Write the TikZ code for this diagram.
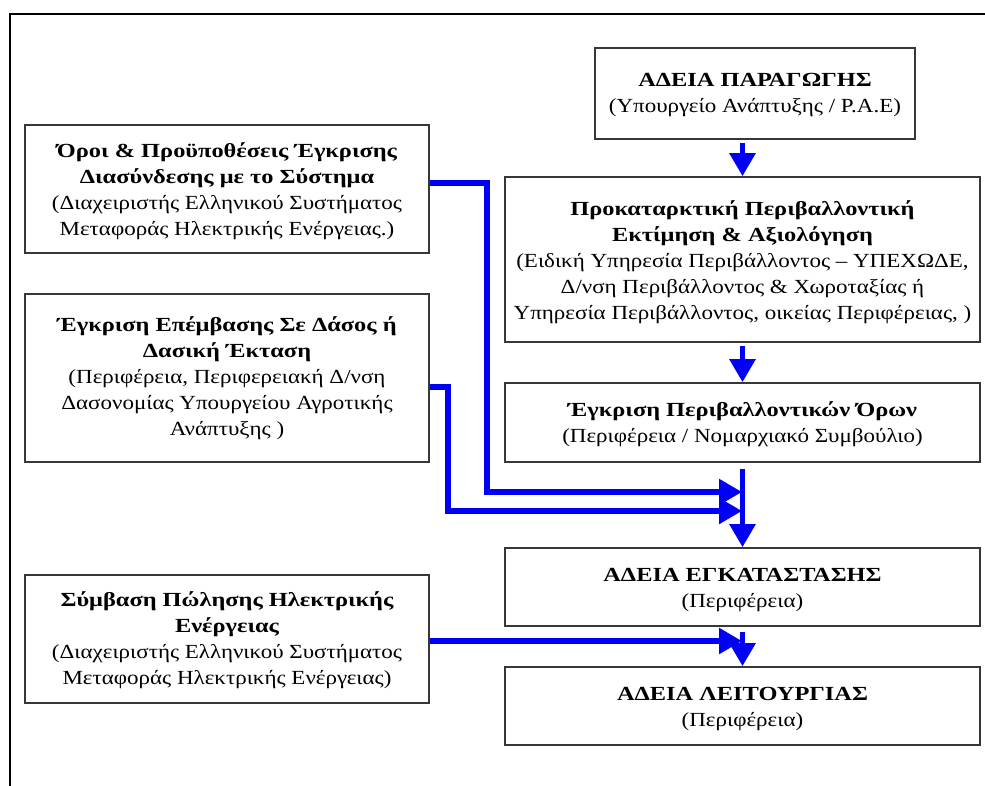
\documentclass[tikz,border=0pt]{standalone}
\usepackage{fontspec}
\setmainfont{Liberation Serif}[FakeStretch=1.15]
\newfontfamily\boldfam{Liberation Serif}[FakeStretch=1.22]
\newcommand{\ttlb}[1]{{\boldfam\bfseries #1}}
\usetikzlibrary{arrows.meta}
\definecolor{arrowblue}{RGB}{0,0,245}
\definecolor{boxgray}{RGB}{55,55,55}
\tikzset{
  box/.style={draw=boxgray, line width=1.6pt, inner sep=0pt, anchor=center},
  txt/.style={align=center, inner sep=0pt, anchor=center,
    font=\fontsize{20}{26}\selectfont},
  conn/.style={draw=arrowblue, line width=5.5pt,
    -{Triangle[width=25pt,length=23pt]}, line join=miter},
  frameline/.style={line width=2.5pt, black}
}
\begin{document}
\begin{tikzpicture}[x=1pt,y=-1pt]
\useasboundingbox (0,0) rectangle (985,785);
\coordinate (fa) at (10,786);
\coordinate (fb) at (10,14);
\coordinate (fc) at (986,14);
\draw[frameline] (fa) -- (fb) -- (fc);

% right column
\node[box, minimum width=320pt, minimum height=91pt] (a) at (755,93.5) {};
\node[txt] (at) at ([yshift=-2pt]a.center)
  {\ttlb{ΑΔΕΙΑ ΠΑΡΑΓΩΓΗΣ}\\(Υπουργείο Ανάπτυξης / Ρ.Α.Ε)};
\node[box, minimum width=475pt, minimum height=165pt] (b) at (742.5,259.5) {};
\node[txt] (bt) at ([yshift=-3pt]b.center)
  {\ttlb{Προκαταρκτική Περιβαλλοντική}\\\ttlb{Εκτίμηση \& Αξιολόγηση}\\(Ειδική Υπηρεσία Περιβάλλοντος – ΥΠΕΧΩΔΕ,\\Δ/νση Περιβάλλοντος \& Χωροταξίας ή\\Υπηρεσία Περιβάλλοντος, οικείας Περιφέρειας, )};
\node[box, minimum width=475pt, minimum height=79pt] (c) at (742.5,422.5) {};
\node[txt] (ct) at ([yshift=-2pt]c.center)
  {\ttlb{Έγκριση Περιβαλλοντικών Όρων}\\(Περιφέρεια / Νομαρχιακό Συμβούλιο)};
\node[box, minimum width=475pt, minimum height=78pt] (d) at (742.5,587) {};
\node[txt] (dt) at ([yshift=-3pt]d.center)
  {\ttlb{ΑΔΕΙΑ ΕΓΚΑΤΑΣΤΑΣΗΣ}\\(Περιφέρεια)};
\node[box, minimum width=475pt, minimum height=78pt] (e) at (742.5,706) {};
\node[txt] (et) at ([yshift=-3pt]e.center)
  {\ttlb{ΑΔΕΙΑ ΛΕΙΤΟΥΡΓΙΑΣ}\\(Περιφέρεια)};

% left column
\node[box, minimum width=404pt, minimum height=128pt] (l1) at (227,189) {};
\node[txt] (l1t) at ([yshift=-2pt]l1.center)
  {\ttlb{Όροι \& Προϋποθέσεις Έγκρισης}\\\ttlb{Διασύνδεσης με το Σύστημα}\\(Διαχειριστής Ελληνικού Συστήματος\\Μεταφοράς Ηλεκτρικής Ενέργειας.)};
\node[box, minimum width=404pt, minimum height=168pt] (l2) at (227,378) {};
\node[txt] (l2t) at (l2.center)
  {\ttlb{Έγκριση Επέμβασης Σε Δάσος ή}\\\ttlb{Δασική Έκταση}\\(Περιφέρεια, Περιφερειακή Δ/νση\\Δασονομίας Υπουργείου Αγροτικής\\Ανάπτυξης )};
\node[box, minimum width=404pt, minimum height=128pt] (l3) at (227,639) {};
\node[txt] (l3t) at ([yshift=-1pt]l3.center)
  {\ttlb{Σύμβαση Πώλησης Ηλεκτρικής}\\\ttlb{Ενέργειας}\\(Διαχειριστής Ελληνικού Συστήματος\\Μεταφοράς Ηλεκτρικής Ενέργειας)};

% connectors
\coordinate (k1) at (487,492);
\coordinate (k2) at (448,511);
\coordinate (j1) at (742,492);
\coordinate (j2) at (742,511);
\coordinate (j3) at (742,641);

\draw[conn] ([yshift=6pt]l1.east) -| (k1) -- (j1);
\draw[conn] ([yshift=-9pt]l2.east) -| (k2) -- (j2);
\draw[conn] (l3.east |- j3) -- (j3);

\draw[conn, shorten <=3pt] (a.south -| b.north) -- (b.north);
\draw[conn, shorten <=3pt] (b.south) -- (c.north);
\draw[conn, shorten <=6pt] (c.south) -- (d.north);
\draw[conn, shorten <=5pt] (d.south) -- (e.north);
\end{tikzpicture}
\end{document}
